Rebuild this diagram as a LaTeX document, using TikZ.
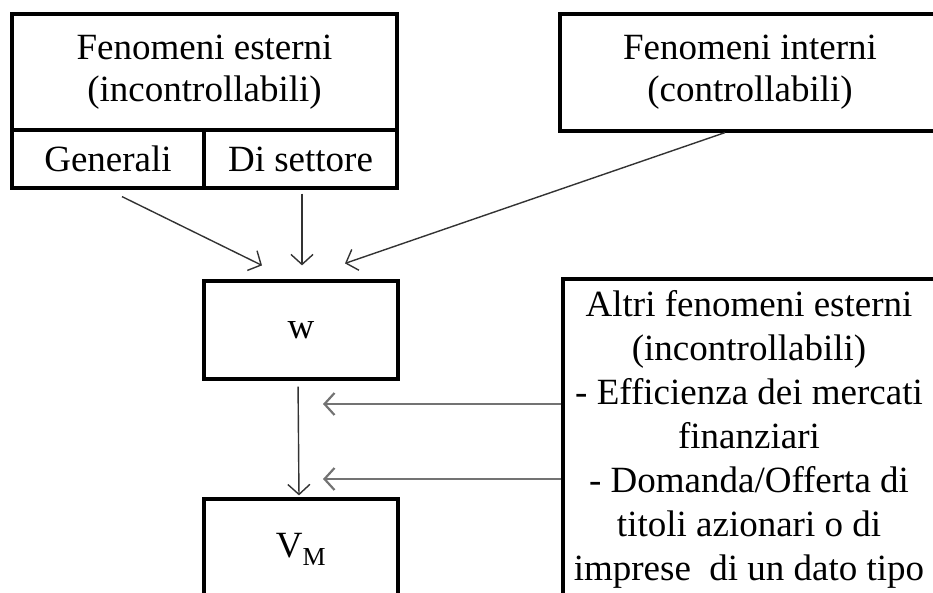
\documentclass[tikz,border=0pt]{standalone}
\usepackage{fontspec}
\setmainfont{Liberation Serif}
\usetikzlibrary{positioning,calc,arrows.meta}

\tikzset{
    box/.style={draw, line width=3.2pt, inner sep=0pt, align=center},
    arr/.style={->, line width=1.4pt, draw=black!80},
    side/.style={->, line width=2.2pt, draw=black!55}
}

\begin{document}
\begin{tikzpicture}[x=1pt, y=-1pt, >={Straight Barb[length=10pt,width=22pt]},
    font=\fontsize{37}{42}\selectfont]
    \useasboundingbox (0,0) rectangle (933,593);
    \clip (0,0) rectangle (933,593);

    % top boxes
    \node[box, minimum width=385pt, minimum height=116pt] (est) at (204.5,72) {Fenomeni esterni\\(incontrollabili)};
    \node[box, minimum width=192pt, minimum height=58pt] (gen) at (108,159) {Generali};
    \node[box, minimum width=193pt, minimum height=58pt] (sett) at (300.5,159) {Di settore};
    \node[box, minimum width=380pt, minimum height=117pt] (int) at (750,72.5) {Fenomeni interni\\(controllabili)};

    % w and V_M
    \node[box, minimum width=194pt, minimum height=98pt] (w) at (301,330) {w};
    \node[box, minimum width=194pt, minimum height=101pt] (vm) at (301,549.5) {V\textsubscript{M}};

    % other external phenomena
    \node[box, minimum width=372pt, minimum height=321pt, font=\fontsize{37}{44}\selectfont] (altri) at (749,439.5)
        {Altri fenomeni esterni\\(incontrollabili)\\- Efficienza dei mercati\\finanziari\\- Domanda/Offerta di\\titoli azionari o di\\imprese\ \ di un dato tipo};

    \draw[arr] ([xshift=14pt,yshift=-7pt]gen.south) -- ([xshift=-39pt,yshift=14pt]w.north);
    \draw[arr] ([xshift=1.5pt,yshift=-4pt]sett.south) -- ([xshift=1pt,yshift=14pt]w.north);
    \draw[arr] ([xshift=-25pt]int.south) -- ([xshift=44pt,yshift=16pt]w.north);
    \draw[arr, shorten <=6pt, shorten >=2pt] ([xshift=-3pt]w.south) -- ([xshift=-2pt]vm.north);

    \coordinate (t1) at (323,404);
    \coordinate (t2) at (323,479);
    \draw[side] (altri.west |- t1) -- (t1);
    \draw[side] (altri.west |- t2) -- (t2);
\end{tikzpicture}
\end{document}
